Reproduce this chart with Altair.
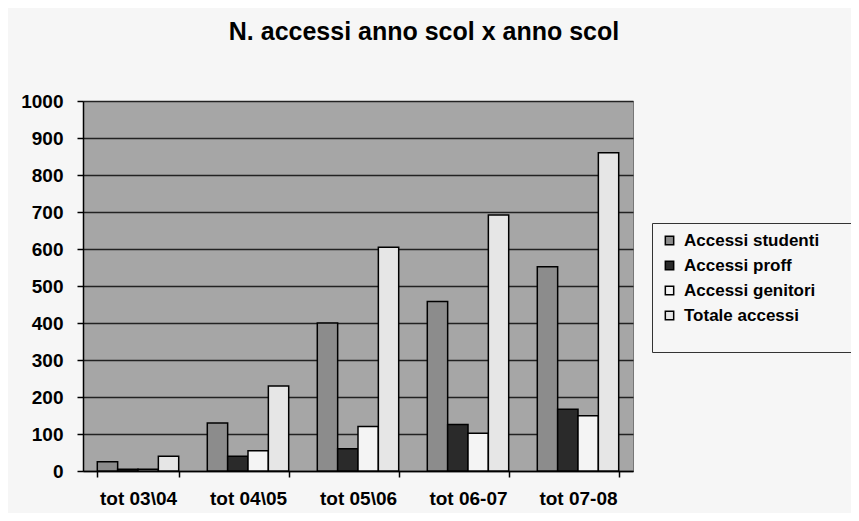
import altair as alt
import pandas as pd

categories = ["tot 03\\04", "tot 04\\05", "tot 05\\06", "tot 06-07", "tot 07-08"]
series = ["Accessi studenti", "Accessi proff", "Accessi genitori", "Totale accessi"]
studenti = [25, 130, 400, 458, 552]
proff = [5, 40, 60, 126, 167]
genitori = [5, 55, 120, 102, 149]
totale = [40, 230, 605, 692, 860]
colors = ["#8c8c8c", "#2a2a2a", "#f4f4f4", "#e6e6e6"]

rows = []
for name, vals in zip(series, [studenti, proff, genitori, totale]):
    for c, v in zip(categories, vals):
        rows.append({"anno": c, "serie": name, "valore": v})
df = pd.DataFrame(rows)

FONT = "Liberation Sans"
BG = "#f6f6f6"

chart = alt.Chart(df).mark_bar(stroke="black", strokeWidth=1.5).encode(
    x=alt.X("anno:N", sort=categories, title=None,
            scale=alt.Scale(paddingInner=0.26, paddingOuter=0.13),
            axis=alt.Axis(labelAngle=0, tickBand="extent", labelFont=FONT,
                          labelFontSize=19, labelFontWeight="bold", labelColor="black",
                          labelPadding=12, domainColor="black", domainWidth=1.5,
                          tickColor="black", tickSize=6, tickWidth=1.5, grid=False)),
    xOffset=alt.XOffset("serie:N", sort=series),
    y=alt.Y("valore:Q", title=None,
            scale=alt.Scale(domain=[0, 1000], nice=False),
            axis=alt.Axis(values=list(range(0, 1001, 100)), format="d", labelFont=FONT,
                          labelFontSize=19, labelFontWeight="bold", labelColor="black",
                          labelPadding=14, domainColor="black", domainWidth=1.5,
                          tickColor="black", tickSize=6, tickWidth=1.5,
                          grid=True, gridColor="#222222", gridWidth=1.5)),
    color=alt.Color("serie:N", sort=series,
                    scale=alt.Scale(domain=series, range=colors),
                    legend=alt.Legend(title="_" * 27, titleColor=BG, titleOrient="bottom",
                                      titleFontSize=12, titlePadding=8, titleLimit=400,
                                      orient="none", legendX=569, legendY=122,
                                      symbolType="square", symbolSize=70,
                                      symbolStrokeColor="black", symbolStrokeWidth=1.5,
                                      labelFont=FONT, labelFontSize=17, labelFontWeight="bold",
                                      labelColor="black", rowPadding=7, padding=9,
                                      strokeColor="#333333", labelOffset=6)),
).properties(
    width=550, height=370,
    autosize=alt.AutoSizeParams(type="none"),
    padding={"left": 75, "top": 93, "right": 218, "bottom": 42},
    background=BG,
    title=alt.TitleParams("N. accessi anno scol x anno scol", font=FONT, fontSize=25,
                          fontWeight="bold", color="black", anchor="middle", dx=66, offset=47),
).configure_view(fill="#a6a6a6", stroke="#777777")

chart.save("out.html", embed_options={"renderer": "svg", "actions": False})
